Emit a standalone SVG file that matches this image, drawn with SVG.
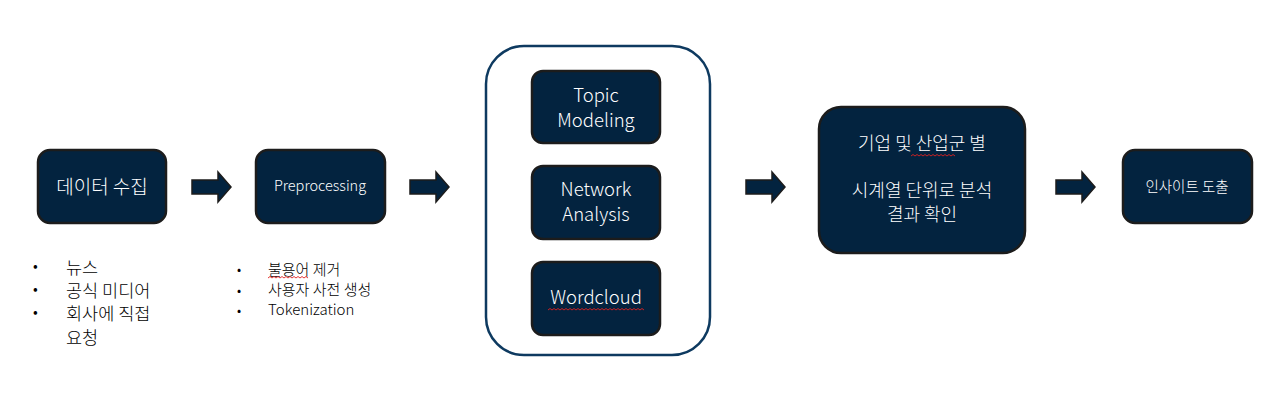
<svg xmlns="http://www.w3.org/2000/svg" width="1284" height="402" viewBox="0 0 1284 402">
<style>
.box{fill:#03233f;stroke:#1c1c1c;stroke-width:2.5}
.t{fill:#ffffff;font-family:"Noto Sans CJK KR","Noto Sans",sans-serif;font-weight:300;text-anchor:middle}
.b{fill:#000000;font-family:"Noto Sans CJK KR","Noto Sans",sans-serif;font-weight:300}
.arr{fill:#03233f;stroke:#1c1c1c;stroke-width:1.5}
.sq{fill:none;stroke:#e02020;stroke-width:0.9}
</style>
<defs>
<path id="arrow" d="M0,-7 L26,-7 L26,-15 L39,0 L26,15 L26,7 L0,7 Z"/>
</defs>
<rect width="1284" height="402" fill="#ffffff"/>
<g id="connectors">
<use href="#arrow" class="arr" x="192" y="187"/>
<use href="#arrow" class="arr" x="410" y="187"/>
<use href="#arrow" class="arr" x="746" y="187"/>
<use href="#arrow" class="arr" x="1056" y="187"/>
</g>
<g id="collect">
<rect class="box" x="38" y="150" width="128" height="73" rx="12"/>
<text class="t" x="102" y="194" font-size="19">데이터 수집</text>
</g>
<g id="preprocessing">
<rect class="box" x="256" y="150" width="129" height="73" rx="12"/>
<text class="t" x="320" y="191" font-size="14.5">Preprocessing</text>
</g>
<g id="analysis-group">
<rect x="486" y="46" width="224" height="309" rx="38" fill="none" stroke="#0e3a60" stroke-width="2.5"/>
</g>
<g id="topic">
<rect class="box" x="532" y="71" width="128" height="72" rx="11"/>
<text class="t" x="596" y="102" font-size="18.5">Topic</text>
<text class="t" x="596" y="127" font-size="18.5">Modeling</text>
</g>
<g id="network">
<rect class="box" x="532" y="166" width="128" height="73" rx="11"/>
<text class="t" x="596" y="196" font-size="18.5">Network</text>
<text class="t" x="596" y="221" font-size="18.5">Analysis</text>
</g>
<g id="wordcloud">
<rect class="box" x="532" y="262" width="128" height="73" rx="11"/>
<text class="t" x="596" y="304" font-size="18.5">Wordcloud</text>
<path class="sq" d="M548,310 l2,-1.5 l2,1.5 l2,-1.5 l2,1.5 l2,-1.5 l2,1.5 l2,-1.5 l2,1.5 l2,-1.5 l2,1.5 l2,-1.5 l2,1.5 l2,-1.5 l2,1.5 l2,-1.5 l2,1.5 l2,-1.5 l2,1.5 l2,-1.5 l2,1.5 l2,-1.5 l2,1.5 l2,-1.5 l2,1.5 l2,-1.5 l2,1.5 l2,-1.5 l2,1.5 l2,-1.5 l2,1.5 l2,-1.5 l2,1.5 l2,-1.5 l2,1.5 l2,-1.5 l2,1.5 l2,-1.5 l2,1.5 l2,-1.5 l2,1.5 l2,-1.5 l2,1.5 l2,-1.5 l2,1.5 l2,-1.5 l2,1.5 l2,-1.5 l2,1.5"/>
</g>
<g id="timeseries">
<rect class="box" x="819" y="107" width="206" height="146" rx="22"/>
<text class="t" x="922" y="150" font-size="18">기업 및 산업군 별</text>
<path class="sq" d="M911,156 l2,-1.5 l2,1.5 l2,-1.5 l2,1.5 l2,-1.5 l2,1.5 l2,-1.5 l2,1.5 l2,-1.5 l2,1.5 l2,-1.5 l2,1.5 l2,-1.5 l2,1.5 l2,-1.5 l2,1.5 l2,-1.5 l2,1.5 l2,-1.5 l2,1.5 l2,-1.5 l2,1.5"/>
<text class="t" x="922" y="197" font-size="18">시계열 단위로 분석</text>
<text class="t" x="922" y="221" font-size="18">결과 확인</text>
</g>
<g id="insight">
<rect class="box" x="1123" y="150" width="129" height="73" rx="12"/>
<text class="t" x="1187" y="192" font-size="14.5">인사이트 도출</text>
</g>
<g id="collect-list">
<text class="b" x="33" y="271" font-size="15">•</text>
<text class="b" x="33" y="294" font-size="15">•</text>
<text class="b" x="33" y="317" font-size="15">•</text>
<text class="b" x="66" y="274" font-size="17.5">뉴스</text>
<text class="b" x="66" y="297" font-size="17.5">공식 미디어</text>
<text class="b" x="66" y="320" font-size="17.5">회사에 직접</text>
<text class="b" x="66" y="344" font-size="17.5">요청</text>
</g>
<g id="preprocessing-list">
<text class="b" x="237" y="274" font-size="13">•</text>
<text class="b" x="237" y="295" font-size="13">•</text>
<text class="b" x="237" y="315" font-size="13">•</text>
<text class="b" x="268" y="275" font-size="15">불용어 제거</text>
<path class="sq" d="M268,278 l2,-1.5 l2,1.5 l2,-1.5 l2,1.5 l2,-1.5 l2,1.5 l2,-1.5 l2,1.5 l2,-1.5 l2,1.5 l2,-1.5 l2,1.5 l2,-1.5 l2,1.5 l2,-1.5 l2,1.5 l2,-1.5 l2,1.5 l2,-1.5 l2,1.5"/>
<text class="b" x="268" y="295" font-size="15">사용자 사전 생성</text>
<text class="b" x="268" y="315" font-size="15">Tokenization</text>
</g>
</svg>
